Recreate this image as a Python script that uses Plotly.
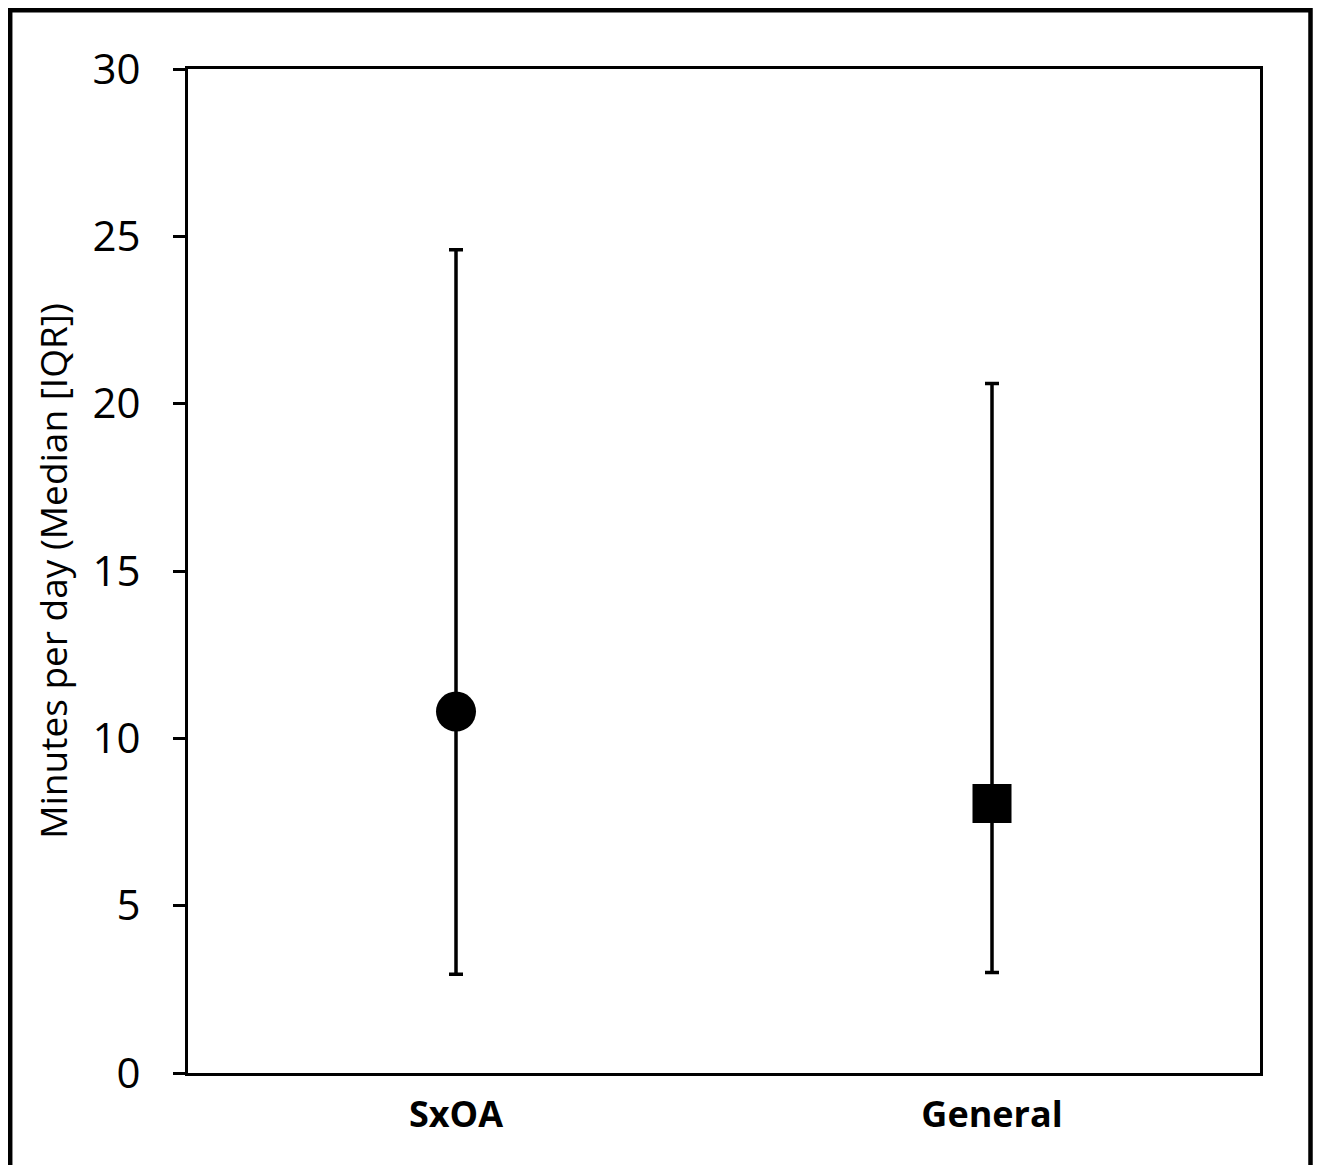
import plotly.graph_objects as go

categories = ["SxOA", "General"]
medians = [10.8, 8.05]
q1 = [2.95, 3.0]
q3 = [24.6, 20.6]
symbols = ["circle", "square"]
marker_sizes = [40, 39]
y_ticks = [0, 5, 10, 15, 20, 25, 30]

err_plus = [h - m for h, m in zip(q3, medians)]
err_minus = [m - l for m, l in zip(medians, q1)]

fig = go.Figure()
fig.add_trace(go.Scatter(
    x=categories, y=medians, mode="markers",
    marker=dict(symbol=symbols, size=marker_sizes, color="black", opacity=1,
                line=dict(width=0)),
    error_y=dict(type="data", array=err_plus, arrayminus=err_minus,
                 color="black", thickness=3.5, width=7),
    showlegend=False,
))

OFF = 8  # default page body margin
W, H = 1321, 1165
L, R, T, B = 188 - OFF, 1260 - OFF, 69 - OFF, 1073 - OFF
pw, ph = R - L, B - T


def px(x):
    return (x - OFF - L) / pw


def py(y):
    return (B - (y - OFF)) / ph


fig.add_shape(type="rect", xref="paper", yref="paper",
              x0=px(10.2), x1=px(1310.5), y0=py(1185), y1=py(10.2),
              line=dict(color="black", width=4.5), fillcolor="rgba(0,0,0,0)", layer="above")

fig.update_layout(
    width=W, height=H,
    margin=dict(l=L, r=W - R, t=T, b=H - B, pad=0),
    paper_bgcolor="white", plot_bgcolor="white",
    font=dict(family="Open Sans", color="black"),
)
fig.update_xaxes(
    type="category", range=[-0.5, 1.5],
    showline=True, linecolor="black", linewidth=3, mirror=True,
    ticks="", showgrid=False, zeroline=False,
    tickfont=dict(size=36, family="Open Sans", weight="bold", color="black"),
    ticklabelstandoff=8,
)
fig.update_yaxes(
    range=[0, 30], tickvals=y_ticks,
    showline=True, linecolor="black", linewidth=3, mirror=True,
    ticks="outside", ticklen=12, tickwidth=3, tickcolor="black",
    showgrid=False, zeroline=False,
    tickfont=dict(size=42, family="Open Sans", color="black"),
    ticklabelstandoff=24,
    title=dict(text="Minutes per day (Median [IQR])",
               font=dict(size=37, family="Open Sans", color="black"), standoff=14),
)

fig.write_html("out.html")
